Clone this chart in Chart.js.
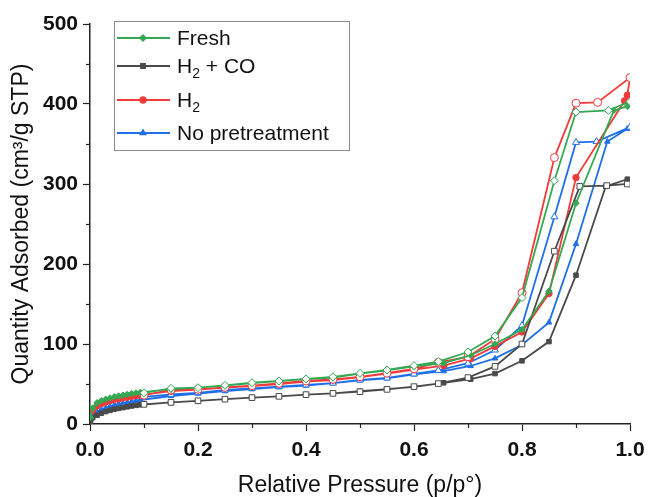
<!DOCTYPE html>
<html>
<head>
<meta charset="utf-8">
<script src="https://cdn.jsdelivr.net/npm/chart.js@4.4.1/dist/chart.umd.min.js"></script>
<style>
  html, body { margin: 0; padding: 0; background: #fff; }
  #wrap { width: 650px; height: 497px; position: relative; }
</style>
</head>
<body>
<div id="wrap"><canvas id="c" width="650" height="497"></canvas></div>
<script>
// ---- Data ----
const seriesNames = ['Fresh', 'H₂ + CO', 'H₂', 'No pretreatment'];
const seriesColors = ['#34a853', '#4a4a4a', '#ef3b3b', '#1f6fe6'];
const seriesMarkers = ['rectRot', 'rect', 'circle', 'triangle'];

const xTicks = [0, 0.2, 0.4, 0.6, 0.8, 1.0];
const yTicks = [0, 100, 200, 300, 400, 500];

// shared adsorption relative pressures (low + mid range)
const lowP = [0.001, 0.005, 0.013, 0.021, 0.029, 0.037, 0.045, 0.053, 0.061, 0.069, 0.077, 0.085, 0.093];
const midP = [0.15, 0.2, 0.25, 0.3, 0.35, 0.4, 0.45, 0.5, 0.55, 0.6];
// shared desorption relative pressures (low + mid range)
const desMidP = [0.8, 0.75, 0.7, 0.645, 0.6, 0.55, 0.5, 0.45, 0.4, 0.35, 0.3, 0.25, 0.2, 0.15, 0.1];

// Fresh
const freshAdsTailP = [0.655, 0.705, 0.75, 0.8, 0.85, 0.9, 0.97, 0.995];
const freshAdsQ = [8, 20, 26.5, 29, 31, 32.5, 34, 35, 36, 37, 38, 38.8, 39.5,
                   43.5, 45.5, 48, 51, 53.5, 56, 58, 63, 67, 72,
                   76, 86, 100, 118, 166, 276, 392, 397];
const freshDesTopP = [1.0, 0.96, 0.9, 0.86];
const freshDesQ = [403, 392, 390, 304,
                   158, 110, 90, 78, 73, 67.5, 63.3, 59, 56.3, 53.8, 51.7, 48.3, 45.4, 44.6, 39];

// H2 + CO
const h2coAdsTailP = [0.655, 0.705, 0.75, 0.8, 0.85, 0.9, 0.955, 0.995];
const h2coAdsQ = [3, 8, 11, 13.5, 15.5, 17, 18.5, 19.5, 20.5, 21.5, 22.5, 23.3, 24,
                  27, 29, 31, 33, 34.6, 36.7, 38.3, 41, 43.7, 46.5,
                  51.5, 56, 63, 79, 103, 186, 297, 306];
const h2coDesTopP = [0.995, 0.957, 0.907, 0.86];
const h2coDesQ = [300, 298, 297, 216,
                  100, 72, 58, 50.5, 46.7, 43.3, 40.4, 38.3, 36.7, 34.6, 33, 31, 29, 27, 24.6];

// H2
const h2AdsTailP = [0.655, 0.705, 0.75, 0.8, 0.85, 0.9, 0.99, 0.995];
const h2AdsQ = [6, 17, 22.5, 25.5, 27.5, 29, 30.5, 31.5, 32.5, 33.5, 34.5, 35.3, 36,
                41, 43, 45.5, 47.5, 50, 53, 55, 58.5, 63, 68,
                73, 82, 97, 115, 163, 308, 404, 411];
const h2DesTopP = [1.0, 0.94, 0.9, 0.86];
const h2DesQ = [433, 402, 401, 333,
                164, 106, 84, 77, 69, 63.5, 59, 55.8, 53.8, 50.8, 48, 45.8, 43.3, 42.5, 36];

// No pretreatment
const noneAdsTailP = [0.655, 0.705, 0.75, 0.8, 0.85, 0.9, 0.958, 0.995];
const noneAdsQ = [1, 10, 15, 18, 20, 22, 23.5, 25, 26, 27, 28, 29, 30,
                  35, 38, 41, 43.5, 46, 48, 51, 54.5, 57, 62,
                  66, 72.5, 82, 99, 127, 225, 353, 369];
const noneDesTopP = [1.0, 0.938, 0.9, 0.86];
const noneDesQ = [371, 353, 352, 259,
                  123, 92.5, 76, 67, 62.5, 57.5, 55, 51, 48.8, 46.7, 44.6, 42.5, 39, 37, 34];

// ---- Build datasets ----
function buildLoop(adsTailP, adsQ, desTopP, desQ) {
  const adsP = lowP.concat(midP, adsTailP);
  const desP = desTopP.concat(desMidP);
  const pts = [], filled = [];
  adsP.forEach((p, i) => { pts.push({x: p, y: adsQ[i]}); filled.push(true); });
  desP.forEach((p, i) => { pts.push({x: p, y: desQ[i]}); filled.push(false); });
  return {pts, filled};
}
const loops = [
  buildLoop(freshAdsTailP, freshAdsQ, freshDesTopP, freshDesQ),
  buildLoop(h2coAdsTailP, h2coAdsQ, h2coDesTopP, h2coDesQ),
  buildLoop(h2AdsTailP, h2AdsQ, h2DesTopP, h2DesQ),
  buildLoop(noneAdsTailP, noneAdsQ, noneDesTopP, noneDesQ)
];
const datasets = loops.map((lp, k) => ({
  label: seriesNames[k],
  data: lp.pts,
  showLine: true,
  borderColor: seriesColors[k],
  borderWidth: 1.8,
  pointStyle: seriesMarkers[k],
  pointBackgroundColor: lp.filled.map(f => f ? seriesColors[k] : '#ffffff'),
  pointBorderColor: seriesColors[k],
  pointBorderWidth: 1,
  pointRadius: lp.filled.map(f => f ? 3.2 : 4),
  pointHoverRadius: 4,
  tension: 0
}));

const FONT = '"Liberation Sans", Arial, sans-serif';

// minor ticks plugin
const minorTicks = {
  id: 'minorTicks',
  afterDraw(chart) {
    const ctx = chart.ctx;
    const xs = chart.scales.x, ys = chart.scales.y;
    ctx.save();
    ctx.strokeStyle = '#222';
    ctx.lineWidth = 1.2;
    [0.1, 0.3, 0.5, 0.7, 0.9].forEach(v => {
      const px = Math.round(xs.getPixelForValue(v)) + 0.5;
      ctx.beginPath(); ctx.moveTo(px, ys.bottom); ctx.lineTo(px, ys.bottom + 4); ctx.stroke();
    });
    [50, 150, 250, 350, 450].forEach(v => {
      const py = Math.round(ys.getPixelForValue(v)) + 0.5;
      ctx.beginPath(); ctx.moveTo(xs.left, py); ctx.lineTo(xs.left - 4, py); ctx.stroke();
    });
    ctx.restore();
  }
};

// framed legend with subscripts
const boxLegend = {
  id: 'boxLegend',
  afterDraw(chart) {
    const ctx = chart.ctx;
    const bx = 114, by = 21, bw = 235, bh = 129;
    const rows = [38, 66, 100, 133];
    ctx.save();
    ctx.fillStyle = '#fff';
    ctx.fillRect(bx, by, bw, bh);
    ctx.strokeStyle = '#8a8a8a';
    ctx.lineWidth = 1;
    ctx.strokeRect(bx + 0.5, by + 0.5, bw, bh);
    seriesNames.forEach((name, k) => {
      const y = rows[k];
      ctx.strokeStyle = seriesColors[k];
      ctx.lineWidth = 1.8;
      ctx.beginPath(); ctx.moveTo(117, y); ctx.lineTo(170, y); ctx.stroke();
      ctx.fillStyle = seriesColors[k];
      Chart.helpers.drawPoint(ctx, {pointStyle: seriesMarkers[k], radius: 2.8, rotation: 0, borderWidth: 1}, 143, y);
      // text with subscript digits
      let x = 177;
      ctx.fillStyle = '#111';
      ctx.textBaseline = 'middle';
      for (const ch of name) {
        if (ch === '₂') {
          ctx.font = '14px ' + FONT;
          ctx.fillText('2', x, y + 8);
          x += ctx.measureText('2').width;
        } else {
          ctx.font = '21px ' + FONT;
          ctx.fillText(ch, x, y + 1);
          x += ctx.measureText(ch).width;
        }
      }
    });
    ctx.restore();
  }
};

new Chart(document.getElementById('c'), {
  type: 'scatter',
  data: { datasets },
  options: {
    responsive: false,
    animation: false,
    devicePixelRatio: 1,
    layout: { padding: { top: 24, right: 20, left: 0, bottom: 0 } },
    plugins: { legend: { display: false }, tooltip: { enabled: false } },
    scales: {
      x: {
        type: 'linear', min: 0, max: 1,
        afterFit(s) { s.height = 73; s.paddingRight = 0; s.paddingLeft = 0; },
        afterBuildTicks(s) { s.ticks = xTicks.map(v => ({value: v})); },
        ticks: { callback: v => Number(v).toFixed(1), color: '#111', padding: 7,
                 font: { family: FONT, size: 21, weight: 'bold' }, maxRotation: 0 },
        grid: { drawOnChartArea: false, drawTicks: true, tickLength: 7, tickColor: '#222', tickWidth: 1.2 },
        border: { color: '#222', width: 1.5 },
        title: { display: true, text: 'Relative Pressure (p/p°)', color: '#111',
                 font: { family: FONT, size: 23, lineHeight: 1.0 }, padding: { top: 0, bottom: 0 } }
      },
      y: {
        type: 'linear', min: 0, max: 500,
        afterFit(s) { s.width = 90; s.paddingTop = 0; s.paddingBottom = 0; },
        afterBuildTicks(s) { s.ticks = yTicks.map(v => ({value: v})); },
        ticks: { color: '#111', padding: 5, font: { family: FONT, size: 21, weight: 'bold' } },
        grid: { drawOnChartArea: false, drawTicks: true, tickLength: 7, tickColor: '#222', tickWidth: 1.2 },
        border: { color: '#222', width: 1.5 },
        title: { display: true, text: 'Quantity Adsorbed (cm³/g STP)', color: '#111',
                 font: { family: FONT, size: 23 }, padding: { top: 8, bottom: 0 } }
      }
    }
  },
  plugins: [minorTicks, boxLegend]
});
</script>
</body>
</html>
